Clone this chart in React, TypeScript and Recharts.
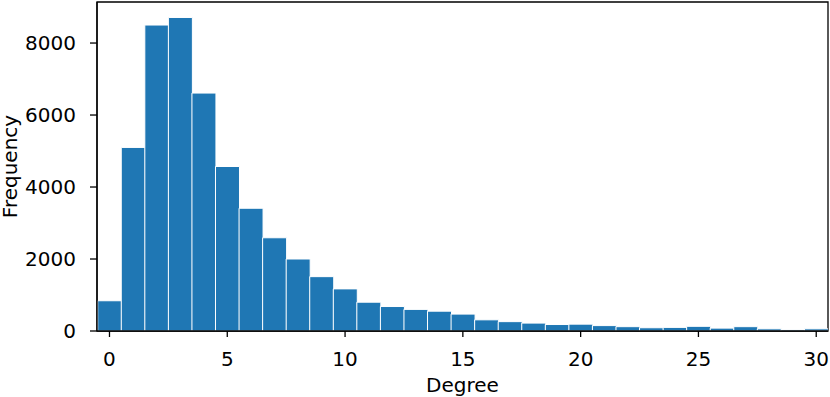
import React from 'react';
import { BarChart, Bar, XAxis, YAxis, ReferenceArea } from 'recharts';

// degree bins 0..30
const degrees = [0, 1, 2, 3, 4, 5, 6, 7, 8, 9, 10, 11, 12, 13, 14, 15, 16, 17, 18, 19, 20, 21, 22, 23, 24, 25, 26, 27, 28, 29, 30];
const frequency = [840, 5100, 8500, 8710, 6610, 4570, 3410, 2590, 2000, 1510, 1170, 800, 680, 600, 550, 470, 310, 260, 220, 180, 190, 150, 120, 90, 100, 130, 80, 120, 60, 30, 60];
const xTicks = [0, 5, 10, 15, 20, 25, 30];
const yTicks = [0, 2000, 4000, 6000, 8000];

const data = degrees.map((d, i) => ({ degree: d, count: frequency[i] }));

const FONT = '"DejaVu Sans", sans-serif';
const BLUE = '#1f77b4';

const tickStyle = { fontFamily: FONT, fontSize: 20, fill: '#000' };

const YLabel = ({ viewBox }: any) => {
  const cy = viewBox.y + viewBox.height / 2;
  return (
    <text x={17} y={cy} transform={`rotate(-90, 17, ${cy})`} textAnchor="middle" style={tickStyle}>
      Frequency
    </text>
  );
};

const XLabel = ({ viewBox }: any) => {
  const cx = viewBox.x + viewBox.width / 2;
  return (
    <text x={cx} y={391.5} textAnchor="middle" style={tickStyle}>
      Degree
    </text>
  );
};

const App: React.FC = () => {
  return (
    <div style={{ position: 'absolute', left: 0, top: 0 }}>
      <BarChart width={830} height={397} data={data} barCategoryGap={0} margin={{ top: 2, right: 2, left: 0, bottom: 0 }}>
        <XAxis
          dataKey="degree"
          type="number"
          domain={[-0.53, 30.5]}
          allowDataOverflow
          ticks={xTicks}
          interval={0}
          height={66}
          tickSize={6}
          tickMargin={15}
          tick={tickStyle}
          stroke="#000"
          axisLine={{ stroke: '#000', strokeWidth: 1.3 }}
          tickLine={{ stroke: '#000', strokeWidth: 1.3 }}
          label={<XLabel />}
        />
        <YAxis
          type="number"
          domain={[0, 9140]}
          allowDataOverflow
          ticks={yTicks}
          interval={0}
          width={97}
          tickSize={7}
          tickMargin={14}
          tick={tickStyle}
          stroke="#000"
          axisLine={{ stroke: '#000', strokeWidth: 1.3 }}
          tickLine={{ stroke: '#000', strokeWidth: 1.3 }}
          label={<YLabel />}
        />
        <Bar dataKey="count" fill={BLUE} stroke="#fff" strokeWidth={1} isAnimationActive={false} />
        <ReferenceArea x1={-0.53} x2={30.5} y1={0} y2={9140} fill="none" stroke="#000" strokeWidth={1.3} ifOverflow="extendDomain" />
      </BarChart>
    </div>
  );
};

export default App;
